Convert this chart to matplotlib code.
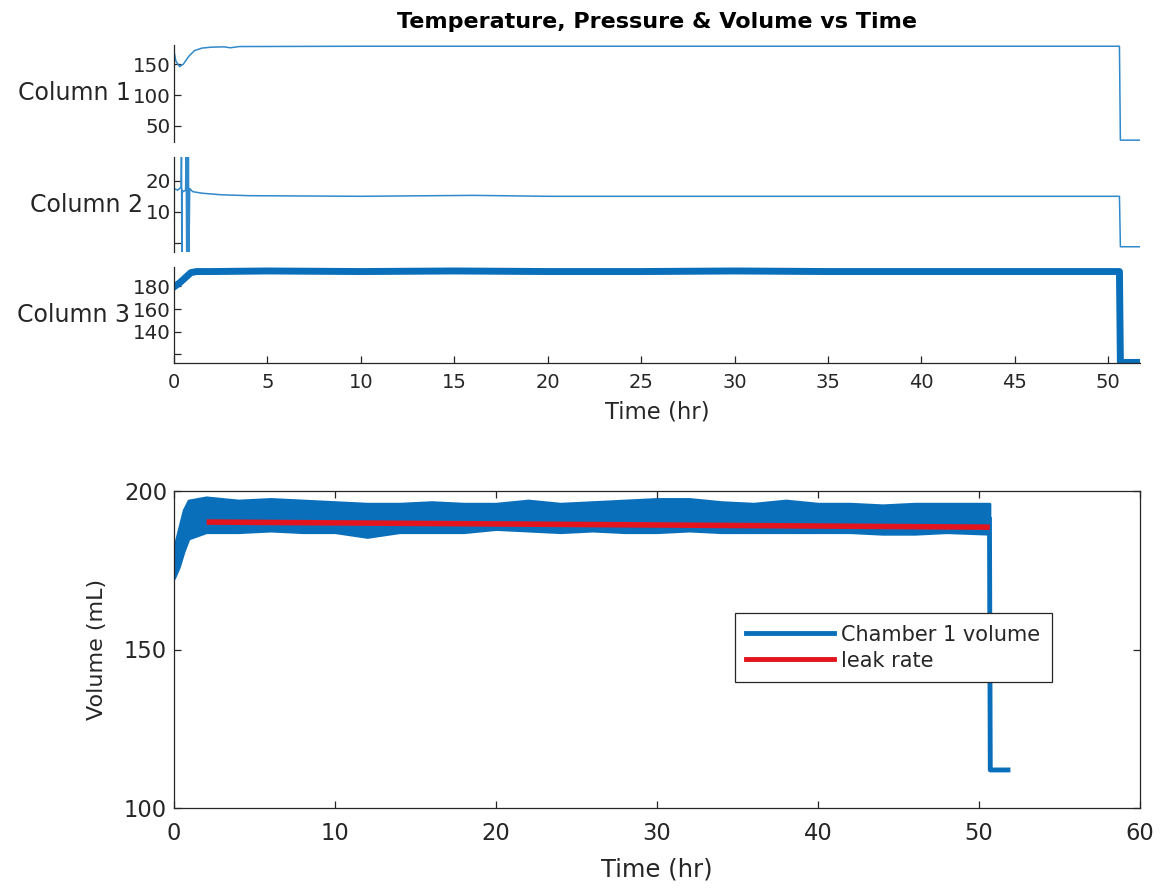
import matplotlib
matplotlib.use("Agg")
import matplotlib.pyplot as plt
from matplotlib.lines import Line2D

plt.rcParams['font.family'] = ['DejaVu Sans']

# ---------------- data ----------------
# Column 1 (temperature)
t1 = [0, 0.1, 0.3, 0.5, 0.8, 1.1, 1.5, 2.0, 2.7, 3.0, 3.5, 10, 20, 30, 40, 50.6, 50.65, 51.7]
v1 = [171, 155, 146, 150, 163, 172, 176, 177.5, 178, 176.5, 178.5, 179, 179, 179, 179, 179, 27, 27]

# Column 2 (pressure)
t2 = [0, 0.2, 0.38, 0.40, 0.42, 0.44, 0.5, 0.62, 0.65, 0.68, 0.71, 0.74, 0.77, 0.80, 0.84,
      1.0, 1.5, 2.5, 4, 10, 16, 20, 30, 40, 50.6, 50.65, 51.7]
v2 = [17.5, 17, 18, 30, -5, 17, 16.5, 17, 30, -5, 30, -5, 30, -5, 17.5,
      16.5, 16, 15.5, 15.2, 15, 15.3, 15, 15, 15, 15, -1.3, -1.3]

# Column 3 (volume, stacked panel)
t3 = [0, 0.3, 0.6, 0.9, 1.2, 2, 5, 10, 15, 20, 25, 30, 35, 40, 45, 50.6, 50.65, 51.7]
v3 = [179.5, 183, 187.5, 192, 193, 193, 193.5, 193, 193.5, 193, 193, 193.5, 193, 193, 193, 193, 113, 113]

# Chamber 1 volume (bottom panel): band envelope
vol_t = [0, 0.3, 0.6, 0.9, 2, 4, 6, 8, 10, 12, 14, 16, 18, 20, 22, 24, 26, 28, 30,
         32, 34, 36, 38, 40, 42, 44, 46, 48, 50.65]
vol_hi = [182, 188, 194, 197, 198, 197, 197.5, 197, 196.5, 196, 196, 196.5, 196, 196, 197,
          196, 196.5, 197, 197.5, 197.5, 196.5, 196, 197, 196, 196, 195.5, 196, 196, 196]
vol_lo = [172.5, 176, 181, 185, 187, 187, 187.5, 187, 187, 185.5, 187, 187, 187, 188, 187.5,
          187, 187.5, 187, 187, 187.5, 187, 187, 187, 187, 187, 186.5, 186.5, 187, 186.5]
drop_t = [50.65, 50.7, 51.8]
drop_v = [191, 112, 112]

# leak-rate fit
leak_t = [2.2, 50.5]
leak_v = [190.2, 188.6]

# ---------------- figure ----------------
W, H = 1160, 893
fig = plt.figure(figsize=(W / 100, H / 100), dpi=100)

def rect(l, t, r, b):
    return [l / W, 1 - b / H, (r - l) / W, (b - t) / H]

blue = '#0a6fbb'
blue_thin = '#3089ca'
red = '#e3141e'
dark = '#262626'

ax1 = fig.add_axes(rect(174, 45, 1140, 142))
ax2 = fig.add_axes(rect(174, 157, 1140, 252))
ax3 = fig.add_axes(rect(174, 267, 1140, 363))

ax1.plot(t1, v1, color=blue_thin, lw=1.1)
ax2.plot(t2, v2, color=blue_thin, lw=1.1)
ax3.plot(t3, v3, color=blue, lw=5)

ax1.set_ylim(24, 181)
ax1.set_yticks([50, 100, 150])
ax2.set_ylim(-3, 27.7)
ax2.set_yticks([0, 10, 20])
ax2.set_yticklabels(['', '10', '20'])
ax3.set_ylim(112.5, 197)
ax3.set_yticks([120, 140, 160, 180])
ax3.set_yticklabels(['', '140', '160', '180'])

for ax, lab in zip([ax1, ax2, ax3], ['Column 1', 'Column 2', 'Column 3']):
    ax.set_xlim(0, 51.7)
    for s in ['top', 'right']:
        ax.spines[s].set_visible(False)
    ax.spines['left'].set_color(dark)
    ax.spines['left'].set_linewidth(0.9)
    ax.tick_params(axis='y', direction='in', length=5, width=0.9, colors=dark,
                   labelsize=14.3, pad=2)
    ax.set_ylabel(lab, rotation=0, ha='right', va='center', fontsize=17,
                  color=dark, labelpad=2)

for ax in [ax1, ax2]:
    ax.spines['bottom'].set_visible(False)
    ax.set_xticks([])

ax3.spines['bottom'].set_color(dark)
ax3.spines['bottom'].set_linewidth(0.9)
ax3.set_xticks(range(0, 51, 5))
ax3.tick_params(axis='x', direction='in', length=5, width=0.9, colors=dark,
                labelsize=14, pad=7)
ax3.set_xlabel('Time (hr)', fontsize=16.4, color=dark, labelpad=6)

fig.text(657 / W, 1 - 22 / H, 'Temperature, Pressure & Volume vs Time',
         ha='center', va='center', fontsize=16, fontweight='bold', color='black')

# ---------------- bottom panel ----------------
ax4 = fig.add_axes(rect(174, 491, 1140, 808))
ax4.fill_between(vol_t, vol_lo, vol_hi, color=blue, lw=2, edgecolor=blue)
vol_line, = ax4.plot(drop_t, drop_v, color=blue, lw=3.5)
leak_line, = ax4.plot(leak_t, leak_v, color=red, lw=4)

ax4.set_xlim(0, 60)
ax4.set_ylim(100, 200)
ax4.set_xticks(range(0, 61, 10))
ax4.set_yticks([100, 150, 200])
for s in ax4.spines.values():
    s.set_color(dark)
    s.set_linewidth(0.9)
ax4.tick_params(direction='in', length=5, width=0.9, colors=dark, labelsize=16.3,
                top=True, right=True, pad=5)
ax4.tick_params(axis='x', pad=10)
ax4.set_xlabel('Time (hr)', fontsize=17.5, color=dark, labelpad=9)
ax4.set_ylabel('Volume (mL)', fontsize=16, color=dark, labelpad=12)

h1 = Line2D([], [], color=blue, lw=3.5)
h2 = Line2D([], [], color=red, lw=3.5)
leg = ax4.legend([h1, h2], ['Chamber 1 volume', 'leak rate'], loc='upper left',
                 bbox_to_anchor=(0.5807, 0.615), borderaxespad=0, fontsize=15,
                 frameon=True, fancybox=False, framealpha=1, edgecolor=dark,
                 handlelength=4.2, handletextpad=0.35, borderpad=0.55,
                 labelspacing=0.3)
leg.get_frame().set_linewidth(0.9)
for txt in leg.get_texts():
    txt.set_color(dark)

fig.savefig('out.png', dpi=100)
